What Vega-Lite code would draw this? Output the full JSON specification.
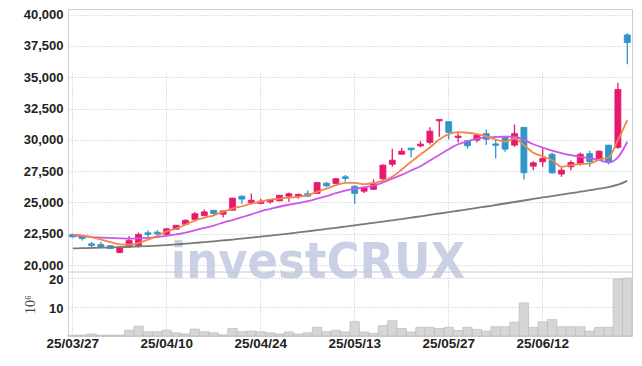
{
  "$schema": "https://vega.github.io/schema/vega-lite/v6.json",
  "width": 564,
  "height": 327,
  "autosize": {"type": "none"},
  "padding": {"left": 68, "top": 9, "right": 10, "bottom": 30},
  "background": "white",
  "config": {
    "font": "Liberation Sans, Arial, sans-serif",
    "view": {"stroke": "#cfcfcf", "strokeWidth": 1},
    "axis": {
      "labelFont": "Liberation Sans, Arial, sans-serif",
      "labelFontSize": 13.5,
      "labelFontWeight": "bold",
      "labelColor": "#222222",
      "ticks": false,
      "domain": false,
      "gridDash": [1, 2],
      "gridColor": "#bfc3d4",
      "gridWidth": 1
    }
  },
  "data": {
    "values": [
      {"d": "25/03/27", "o": 22440, "h": 22460, "l": 22200, "c": 22250, "v": 0.3, "m5": 22440, "m20": 22380, "m60": 21330},
      {"d": "25/03/28", "o": 22320, "h": 22380, "l": 21960, "c": 22120, "v": 0.3, "m5": 22380, "m20": 22320, "m60": 21350},
      {"d": "25/03/31", "o": 21700, "h": 21850, "l": 21320, "c": 21570, "v": 0.7, "m5": 22240, "m20": 22240, "m60": 21370},
      {"d": "25/04/01", "o": 21650, "h": 21850, "l": 21350, "c": 21450, "v": 0.3, "m5": 22040, "m20": 22200, "m60": 21390},
      {"d": "25/04/02", "o": 21550, "h": 21600, "l": 21280, "c": 21320, "v": 0.3, "m5": 21840, "m20": 22170, "m60": 21410},
      {"d": "25/04/03", "o": 21000, "h": 21480, "l": 20950, "c": 21450, "v": 0.3, "m5": 21660, "m20": 22140, "m60": 21430},
      {"d": "25/04/04", "o": 21450, "h": 22320, "l": 21360, "c": 21980, "v": 2.0, "m5": 21630, "m20": 22110, "m60": 21460},
      {"d": "25/04/07", "o": 21550, "h": 22600, "l": 21400, "c": 22450, "v": 3.4, "m5": 21770, "m20": 22130, "m60": 21490},
      {"d": "25/04/08", "o": 22580, "h": 22780, "l": 22160, "c": 22450, "v": 1.5, "m5": 22040, "m20": 22170, "m60": 21520},
      {"d": "25/04/09", "o": 22630, "h": 22780, "l": 22350, "c": 22500, "v": 1.5, "m5": 22330, "m20": 22240, "m60": 21560},
      {"d": "25/04/10", "o": 22460, "h": 22950, "l": 22400, "c": 22900, "v": 2.0, "m5": 22700, "m20": 22330, "m60": 21600},
      {"d": "25/04/11", "o": 22860, "h": 23200, "l": 22840, "c": 23180, "v": 1.1, "m5": 22910, "m20": 22450, "m60": 21650},
      {"d": "25/04/14", "o": 23260, "h": 23650, "l": 23240, "c": 23580, "v": 0.7, "m5": 23230, "m20": 22590, "m60": 21710},
      {"d": "25/04/15", "o": 23650, "h": 24250, "l": 23630, "c": 24100, "v": 2.4, "m5": 23550, "m20": 22780, "m60": 21770},
      {"d": "25/04/16", "o": 23950, "h": 24450, "l": 23930, "c": 24250, "v": 1.5, "m5": 23780, "m20": 22970, "m60": 21830},
      {"d": "25/04/17", "o": 24380, "h": 24400, "l": 23900, "c": 24120, "v": 1.1, "m5": 23980, "m20": 23150, "m60": 21900},
      {"d": "25/04/18", "o": 24060, "h": 24350, "l": 23800, "c": 24330, "v": 0.4, "m5": 24250, "m20": 23400, "m60": 21970},
      {"d": "25/04/21", "o": 24380, "h": 25380, "l": 24360, "c": 25350, "v": 2.6, "m5": 24510, "m20": 23600, "m60": 22040},
      {"d": "25/04/22", "o": 25500, "h": 25550, "l": 24900, "c": 25270, "v": 1.5, "m5": 24700, "m20": 23830, "m60": 22120},
      {"d": "25/04/23", "o": 25000, "h": 25710, "l": 24830, "c": 25180, "v": 1.7, "m5": 24910, "m20": 24050, "m60": 22200},
      {"d": "25/04/24", "o": 24920, "h": 25300, "l": 24850, "c": 25100, "v": 1.5, "m5": 25070, "m20": 24300, "m60": 22280},
      {"d": "25/04/25", "o": 25050, "h": 25280, "l": 24900, "c": 25230, "v": 1.1, "m5": 25230, "m20": 24480, "m60": 22360},
      {"d": "25/04/28", "o": 25130, "h": 25600, "l": 25110, "c": 25580, "v": 0.7, "m5": 25310, "m20": 24660, "m60": 22440},
      {"d": "25/04/29", "o": 25500, "h": 25800, "l": 25050, "c": 25700, "v": 1.4, "m5": 25390, "m20": 24820, "m60": 22520},
      {"d": "25/04/30", "o": 25500, "h": 25700, "l": 25300, "c": 25650, "v": 0.7, "m5": 25450, "m20": 24950, "m60": 22610},
      {"d": "25/05/02", "o": 25700, "h": 25950, "l": 25480, "c": 25500, "v": 1.1, "m5": 25580, "m20": 25100, "m60": 22700},
      {"d": "25/05/07", "o": 25720, "h": 26620, "l": 25700, "c": 26600, "v": 3.0, "m5": 25850, "m20": 25300, "m60": 22790},
      {"d": "25/05/08", "o": 26540, "h": 26650, "l": 26250, "c": 26330, "v": 1.5, "m5": 26110, "m20": 25500, "m60": 22890},
      {"d": "25/05/09", "o": 26520, "h": 26950, "l": 26500, "c": 26900, "v": 2.0, "m5": 26380, "m20": 25750, "m60": 22980},
      {"d": "25/05/12", "o": 27050, "h": 27200, "l": 26650, "c": 26920, "v": 1.4, "m5": 26570, "m20": 25950, "m60": 23080},
      {"d": "25/05/13", "o": 26300, "h": 26350, "l": 24900, "c": 25720, "v": 5.0, "m5": 26570, "m20": 26100, "m60": 23180},
      {"d": "25/05/14", "o": 25900, "h": 26200, "l": 25750, "c": 26170, "v": 1.4, "m5": 26460, "m20": 26220, "m60": 23280},
      {"d": "25/05/15", "o": 26050, "h": 26850, "l": 26030, "c": 26500, "v": 0.9, "m5": 26570, "m20": 26350, "m60": 23380},
      {"d": "25/05/16", "o": 26900, "h": 28050, "l": 26800, "c": 27980, "v": 3.6, "m5": 26730, "m20": 26600, "m60": 23480},
      {"d": "25/05/19", "o": 28050, "h": 29300, "l": 27850, "c": 28380, "v": 5.3, "m5": 27050, "m20": 26900, "m60": 23580},
      {"d": "25/05/20", "o": 28850, "h": 29350, "l": 28830, "c": 29100, "v": 2.6, "m5": 27630, "m20": 27200, "m60": 23680},
      {"d": "25/05/21", "o": 29340, "h": 29350, "l": 28600, "c": 29210, "v": 1.4, "m5": 28250, "m20": 27550, "m60": 23790},
      {"d": "25/05/22", "o": 29520, "h": 29900, "l": 29400, "c": 29660, "v": 3.0, "m5": 28830, "m20": 27900, "m60": 23900},
      {"d": "25/05/23", "o": 29800, "h": 31000, "l": 29630, "c": 30700, "v": 3.0, "m5": 29390, "m20": 28350, "m60": 24010},
      {"d": "25/05/26", "o": 31520, "h": 31650, "l": 30250, "c": 31630, "v": 2.6, "m5": 30030, "m20": 28800, "m60": 24120},
      {"d": "25/05/27", "o": 31450, "h": 31500, "l": 30050, "c": 30600, "v": 3.0, "m5": 30460, "m20": 29250, "m60": 24230},
      {"d": "25/05/28", "o": 30180, "h": 30650, "l": 29800, "c": 30300, "v": 1.9, "m5": 30620, "m20": 29650, "m60": 24340},
      {"d": "25/05/29", "o": 29930, "h": 30000, "l": 29300, "c": 29530, "v": 3.0, "m5": 30570, "m20": 29900, "m60": 24450},
      {"d": "25/05/30", "o": 29980, "h": 30450, "l": 29800, "c": 30380, "v": 2.3, "m5": 30460, "m20": 30100, "m60": 24570},
      {"d": "25/06/02", "o": 30500, "h": 30830, "l": 29600, "c": 30050, "v": 1.7, "m5": 30280, "m20": 30200, "m60": 24680},
      {"d": "25/06/04", "o": 29680, "h": 29980, "l": 28520, "c": 29560, "v": 3.2, "m5": 30030, "m20": 30230, "m60": 24800},
      {"d": "25/06/05", "o": 30170, "h": 30300, "l": 29050, "c": 29260, "v": 3.2, "m5": 29850, "m20": 30250, "m60": 24920},
      {"d": "25/06/09", "o": 29580, "h": 31230, "l": 29450, "c": 30500, "v": 4.8, "m5": 30110, "m20": 30250, "m60": 25040},
      {"d": "25/06/10", "o": 31000, "h": 31020, "l": 26830, "c": 27370, "v": 11.5, "m5": 29580, "m20": 29980, "m60": 25160},
      {"d": "25/06/11", "o": 27900, "h": 28300, "l": 27580, "c": 28170, "v": 3.0, "m5": 28970, "m20": 29650, "m60": 25280},
      {"d": "25/06/12", "o": 28250, "h": 29300, "l": 27850, "c": 28520, "v": 4.9, "m5": 28700, "m20": 29380, "m60": 25400},
      {"d": "25/06/13", "o": 28850, "h": 28970, "l": 27300, "c": 27370, "v": 5.7, "m5": 28380, "m20": 29150, "m60": 25510},
      {"d": "25/06/16", "o": 27270, "h": 27800, "l": 27050, "c": 27580, "v": 3.2, "m5": 27850, "m20": 28950, "m60": 25630},
      {"d": "25/06/17", "o": 27850, "h": 28350, "l": 27580, "c": 28190, "v": 3.2, "m5": 27980, "m20": 28780, "m60": 25740},
      {"d": "25/06/18", "o": 28120, "h": 29000, "l": 27950, "c": 28850, "v": 3.2, "m5": 28060, "m20": 28650, "m60": 25860},
      {"d": "25/06/19", "o": 28900, "h": 29130, "l": 27850, "c": 28250, "v": 1.7, "m5": 28110, "m20": 28520, "m60": 25980},
      {"d": "25/06/20", "o": 28380, "h": 29150, "l": 28360, "c": 29100, "v": 3.0, "m5": 28430, "m20": 28400, "m60": 26100},
      {"d": "25/06/23", "o": 29580, "h": 29600, "l": 28050, "c": 28200, "v": 3.0, "m5": 28590, "m20": 28200, "m60": 26230},
      {"d": "25/06/24", "o": 29400, "h": 34570, "l": 29300, "c": 34030, "v": 19.8, "m5": 29980, "m20": 28600, "m60": 26420},
      {"d": "25/06/25", "o": 38380, "h": 38520, "l": 36030, "c": 37770, "v": 20.1, "m5": 31580, "m20": 29850, "m60": 26730}
    ]
  },
  "resolve": {"scale": {"y": "independent"}},
  "layer": [
    {
      "data": {"values": [{"t": "investCRUX"}]},
      "mark": {"type": "text", "font": "DejaVu Sans Condensed, sans-serif", "fontWeight": "bold", "fontSize": 50, "color": "#cad1e5", "align": "center", "baseline": "alphabetic"},
      "encoding": {
        "text": {"field": "t"},
        "x": {"datum": "25/05/07", "type": "ordinal", "bandPosition": 0.6, "title": null},
        "y": {"datum": 19000, "type": "quantitative", "scale": {"domain": [19450, 40450], "range": [263, 0], "nice": false, "zero": false}, "axis": null}
      }
    },
    {
      "layer": [
        {
          "mark": {"type": "rule", "strokeWidth": 1.3},
          "encoding": {
            "x": {"field": "d", "type": "ordinal", "bandPosition": 0.5, "scale": {"type": "band", "paddingInner": 0, "paddingOuter": 0}, "title": null},
            "y": {"field": "l", "type": "quantitative", "scale": {"domain": [19450, 40450], "range": [263, 0], "nice": false, "zero": false}, "title": null},
            "y2": {"field": "h"},
            "color": {"condition": {"test": "datum.c >= datum.o", "value": "#e6196e"}, "value": "#2e96c8"}
          }
        },
        {
          "mark": {"type": "bar", "width": 6, "strokeWidth": 0.8},
          "encoding": {
            "x": {"field": "d", "type": "ordinal", "scale": {"type": "band", "paddingInner": 0, "paddingOuter": 0}, "title": null},
            "y": {"field": "o", "type": "quantitative", "scale": {"domain": [19450, 40450], "range": [263, 0], "nice": false, "zero": false}, "title": null,
                  "axis": {"values": [20000, 22500, 25000, 27500, 30000, 32500, 35000, 37500, 40000], "format": ",d", "labelPadding": 5, "labelFontSize": 13, "grid": true, "title": null}},
            "y2": {"field": "c"},
            "fill": {"condition": {"test": "datum.c >= datum.o", "value": "#e6196e"}, "value": "#2e96c8"},
            "stroke": {"condition": {"test": "datum.c >= datum.o", "value": "#e6196e"}, "value": "#2e96c8"}
          }
        },
        {
          "mark": {"type": "line", "strokeWidth": 1.8, "color": "#7a7a7a", "interpolate": "monotone"},
          "encoding": {
            "x": {"field": "d", "type": "ordinal", "bandPosition": 0.5, "scale": {"type": "band", "paddingInner": 0, "paddingOuter": 0}, "title": null},
            "y": {"field": "m60", "type": "quantitative", "scale": {"domain": [19450, 40450], "range": [263, 0], "nice": false, "zero": false}, "title": null}
          }
        },
        {
          "mark": {"type": "line", "strokeWidth": 1.8, "color": "#cc58e6", "interpolate": "monotone"},
          "encoding": {
            "x": {"field": "d", "type": "ordinal", "bandPosition": 0.5, "scale": {"type": "band", "paddingInner": 0, "paddingOuter": 0}, "title": null},
            "y": {"field": "m20", "type": "quantitative", "scale": {"domain": [19450, 40450], "range": [263, 0], "nice": false, "zero": false}, "title": null}
          }
        },
        {
          "mark": {"type": "line", "strokeWidth": 1.8, "color": "#f0884a", "interpolate": "monotone"},
          "encoding": {
            "x": {"field": "d", "type": "ordinal", "bandPosition": 0.5, "scale": {"type": "band", "paddingInner": 0, "paddingOuter": 0}, "title": null},
            "y": {"field": "m5", "type": "quantitative", "scale": {"domain": [19450, 40450], "range": [263, 0], "nice": false, "zero": false}, "title": null}
          }
        }
      ]
    },
    {
      "layer": [
        {
          "mark": {"type": "bar", "fill": "#d6d6d6", "stroke": "#bcbcbc", "strokeWidth": 0.7},
          "encoding": {
            "x": {"field": "d", "type": "ordinal", "scale": {"type": "band", "paddingInner": 0, "paddingOuter": 0}, "title": null,
                  "axis": {"values": ["25/03/27", "25/04/10", "25/04/24", "25/05/13", "25/05/27", "25/06/12"], "bandPosition": 0.5, "labelPadding": 7, "labelAngle": 0, "labelAlign": "center", "labelBound": false, "labelFlush": false, "grid": true, "title": null}},
            "y": {"field": "v", "type": "quantitative", "scale": {"domain": [0, 22.2], "range": [327, 263], "nice": false},
                  "axis": {"orient": "left", "values": [10, 20], "labelPadding": 5, "labelFontSize": 13, "labelOffset": 1.5, "grid": true, "title": "10⁶", "titleFont": "Liberation Serif, DejaVu Serif, serif", "titleFontSize": 14, "titleFontWeight": "normal", "titleColor": "#444444", "titlePadding": 11}}
          }
        },
        {
          "data": {"values": [{"k": 1}]},
          "mark": {"type": "rule", "color": "#c8c8cc", "strokeWidth": 1},
          "encoding": {"y": {"datum": 22.2, "type": "quantitative"}}
        }
      ]
    }
  ]
}
